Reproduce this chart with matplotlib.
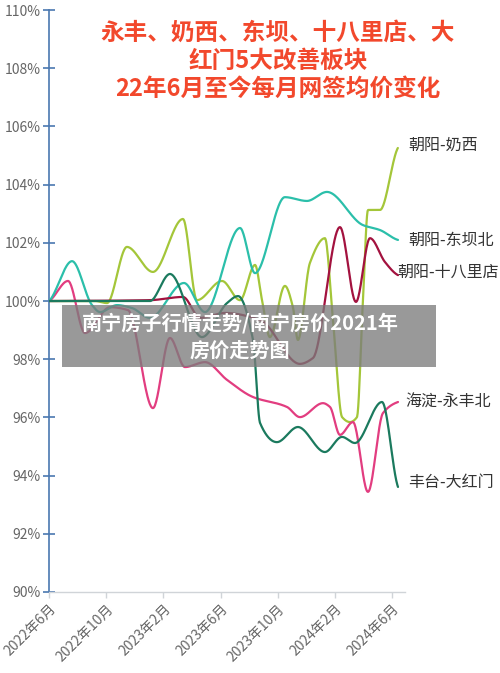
import numpy as np
import matplotlib
matplotlib.use("Agg")
import matplotlib.pyplot as plt

plt.rcParams['font.family'] = ['Noto Sans CJK SC', 'DejaVu Sans']

# x = months since 2022-06, y = price index (%)
naixi_m = [0, 3.22, 4.06, 5.45, 7.27, 9.37, 10.35, 12.1, 13.36, 14.41, 14.9, 15.45,
           16.5, 17.06, 17.41, 18.25, 19.3, 19.86, 20.5, 21.05, 21.54, 21.96, 22.31, 23.15, 24.4]
naixi_v = [100, 100, 99.93, 101.86, 101.0, 102.82, 100.03, 100.69, 100.03, 101.24, 100.03, 98.76,
           100.52, 99.79, 98.66, 101.31, 102.16, 99.35, 96.01, 95.84, 96.01, 100.03, 103.13, 103.13, 105.26]

dongba_m = [0, 1.61, 3.01, 3.57, 4.76, 5.8, 7.06, 9.44, 10.91, 13.36, 14.41, 16.5,
            18.04, 19.44, 21.96, 23.15, 24.41]
dongba_v = [100, 101.37, 99.86, 99.62, 99.86, 99.76, 99.42, 100.62, 99.62, 102.51, 100.96, 103.57,
            103.44, 103.75, 102.61, 102.44, 102.10]

shiba_m = [0, 7.06, 9.37, 10.56, 12.31, 14.76, 17.55, 18.46, 20.35, 21.47, 22.45, 23.5, 24.41]
shiba_v = [100, 100.03, 100.14, 99.42, 99.59, 99.35, 97.84, 98.04, 102.54, 99.97, 102.16, 101.34, 100.89]

yongfeng_m = [0, 1.33, 2.52, 4.27, 5.52, 7.27, 8.46, 9.51, 10.91, 12.45, 14.27, 16.64,
              17.55, 19.16, 19.65, 20.35, 21.26, 22.31, 23.36, 24.41]
yongfeng_v = [100, 100.69, 98.90, 99.79, 99.69, 96.32, 98.73, 97.73, 97.90, 97.29, 96.70, 96.36,
              96.01, 96.49, 96.36, 95.40, 95.84, 93.44, 96.15, 96.53]

dahong_m = [0, 7.06, 8.46, 10.7, 12.45, 13.22, 14.27, 14.76, 15.94, 17.41, 19.3, 20.49,
            21.4, 23.29, 24.41]
dahong_v = [100, 100, 100.93, 98.76, 99.93, 100.17, 98.66, 95.81, 95.15, 95.67, 94.81, 95.33,
            95.12, 96.53, 93.61]

names = ['朝阳-奶西', '朝阳-东坝北', '朝阳-十八里店', '海淀-永丰北', '丰台-大红门']
colors = ['#a4c639', '#2bbfaa', '#a3123f', '#e23d80', '#1b7a5e']

tick_pos = [0, 4, 8, 12, 16, 20, 24]
tick_labels = ['2022年6月', '2022年10月', '2023年2月', '2023年6月', '2023年10月', '2024年2月', '2024年6月']


def pchip(x, y, n=600):
    # smooth monotone cubic through the read points
    x = np.asarray(x, float)
    y = np.asarray(y, float)
    h = np.diff(x)
    d = np.diff(y) / h
    m = np.zeros_like(y)
    for k in range(1, len(x) - 1):
        if d[k - 1] * d[k] > 0:
            w1 = 2 * h[k] + h[k - 1]
            w2 = h[k] + 2 * h[k - 1]
            m[k] = (w1 + w2) / (w1 / d[k - 1] + w2 / d[k])
    m[0] = 0.5 * d[0]
    m[-1] = 0.5 * d[-1]
    xs = np.linspace(x[0], x[-1], n)
    idx = np.clip(np.searchsorted(x, xs) - 1, 0, len(h) - 1)
    t = (xs - x[idx]) / h[idx]
    h00 = 2 * t**3 - 3 * t**2 + 1
    h10 = t**3 - 2 * t**2 + t
    h01 = -2 * t**3 + 3 * t**2
    h11 = t**3 - t**2
    ys = h00 * y[idx] + h10 * h[idx] * m[idx] + h01 * y[idx + 1] + h11 * h[idx] * m[idx + 1]
    return xs, ys


fig = plt.figure(figsize=(5, 6.73), dpi=100)
ax = fig.add_axes([0.098, 0.1204, 0.712, 0.8646])

series = [(naixi_m, naixi_v), (dongba_m, dongba_v), (shiba_m, shiba_v),
          (yongfeng_m, yongfeng_v), (dahong_m, dahong_v)]
order = [0, 3, 1, 2, 4]
for i in order:
    xs, ys = pchip(*series[i])
    ax.plot(xs, ys, color=colors[i], lw=1.6, solid_capstyle='round', zorder=3)

ax.set_xlim(0, 24.9)
ax.set_ylim(90, 110)
ax.set_yticks(np.arange(90, 111, 2))
ax.set_yticklabels([f'{v}%' for v in range(90, 111, 2)])
ax.set_xticks(tick_pos)
ax.set_xticklabels(tick_labels, rotation=45, ha='right', va='top', rotation_mode='anchor')

for s in ['top', 'right']:
    ax.spines[s].set_visible(False)
ax.spines['left'].set_color('#4a78b0')
ax.spines['left'].set_linewidth(1.2)
ax.spines['bottom'].set_color('#d0d4d8')
ax.spines['bottom'].set_linewidth(1.0)
ax.tick_params(axis='y', direction='inout', length=8, width=1.2, color='#4a78b0',
               labelcolor='#666666', labelsize=10, pad=2)
ax.tick_params(axis='x', direction='out', length=4, width=1.0, color='#d0d4d8',
               labelcolor='#666666', labelsize=10, pad=3)

# end labels
label_xy = [(408, 145), (408, 240), (397, 272), (405, 402), (408, 483)]
for (px, py), name in zip(label_xy, names):
    fig.text(px / 500, 1 - py / 673, name, fontsize=11.5, color='#333333',
             ha='left', va='center')

# title
title = ['永丰、奶西、东坝、十八里店、大', '红门5大改善板块', '22年6月至今每月网签均价变化']
for k, line in enumerate(title):
    fig.text(278 / 500, 1 - (33 + 28 * k) / 673, line, fontsize=17, color='#f2482c',
             fontweight='bold', ha='center', va='center')

# overlay box
box = plt.Rectangle((62 / 500, 1 - 367 / 673), (436 - 62) / 500, (367 - 305) / 673,
                    transform=fig.transFigure, facecolor='#7c7c7c', alpha=0.78,
                    edgecolor='none', zorder=5)
fig.patches.append(box)
fig.text(240 / 500, 1 - 323 / 673, '南宁房子行情走势/南宁房价2021年', fontsize=14.5,
         color='white', fontweight='bold', ha='center', va='center', zorder=6)
fig.text(240 / 500, 1 - 350 / 673, '房价走势图', fontsize=14.5,
         color='white', fontweight='bold', ha='center', va='center', zorder=6)

fig.savefig('out.png', dpi=100)
